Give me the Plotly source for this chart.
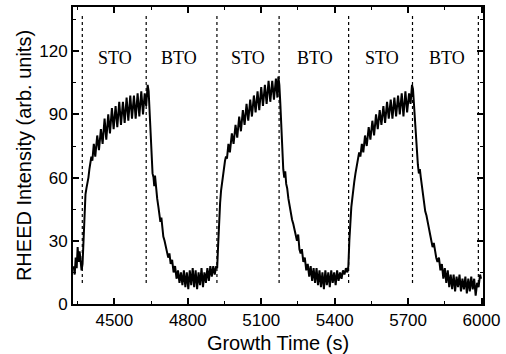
import plotly.graph_objects as go

time_s = [
    4334, 4338, 4342, 4346, 4350, 4354, 4358, 4362, 4366, 4370,
    4374, 4378, 4382, 4386, 4390, 4394, 4398, 4402, 4406, 4410, 4416, 4422, 4430, 4437, 4445, 4452,
    4460, 4467, 4475, 4482, 4490, 4497, 4505, 4512, 4520, 4527, 4535, 4542, 4550, 4557, 4565, 4572,
    4580, 4587, 4595, 4602, 4610, 4617, 4624, 4630, 4636, 4640,
    4644, 4648, 4652, 4656, 4660, 4663, 4666, 4670, 4675, 4680, 4684, 4688, 4692, 4696, 4700, 4705,
    4710, 4715, 4720, 4725, 4730, 4736, 4742, 4748, 4754, 4760, 4766, 4772, 4778, 4784, 4790, 4796,
    4802, 4808, 4814, 4820, 4826, 4832, 4838, 4844, 4850, 4856, 4862, 4868, 4874, 4880, 4886, 4892,
    4898, 4904, 4910, 4916, 4920,
    4924, 4928, 4932, 4936, 4940, 4944, 4948, 4952, 4956, 4960, 4966, 4972, 4980, 4987, 4995, 5002,
    5010, 5017, 5025, 5032, 5040, 5047, 5055, 5062, 5070, 5077, 5085, 5092, 5100, 5107, 5115, 5122,
    5130, 5137, 5145, 5152, 5160, 5166, 5170, 5174,
    5178, 5182, 5186, 5190, 5194, 5198, 5202, 5206, 5211, 5216, 5221, 5226, 5231, 5236, 5241, 5246,
    5251, 5256, 5261, 5266, 5272, 5278, 5284, 5290, 5296, 5302, 5308, 5314, 5320, 5326, 5332, 5338,
    5344, 5350, 5356, 5362, 5368, 5374, 5380, 5386, 5392, 5398, 5404, 5410, 5416, 5422, 5428, 5434,
    5440, 5446, 5452,
    5456, 5460, 5464, 5468, 5472, 5476, 5480, 5485, 5490, 5495, 5500, 5505, 5511, 5517, 5524, 5531,
    5539, 5546, 5554, 5561, 5569, 5576, 5584, 5591, 5599, 5606, 5614, 5621, 5629, 5636, 5644, 5651,
    5659, 5666, 5674, 5681, 5689, 5696, 5704, 5710, 5716, 5720,
    5724, 5728, 5732, 5736, 5740, 5744, 5748, 5752, 5756, 5760, 5765, 5770, 5775, 5780, 5785, 5790,
    5795, 5800, 5805, 5810, 5815, 5820, 5826, 5832, 5838, 5844, 5850, 5856, 5862, 5868, 5874, 5880,
    5886, 5892, 5898, 5904, 5910, 5916, 5922, 5928, 5934, 5940, 5946, 5952, 5958, 5964, 5970, 5976,
    5982, 5988, 5994, 5998,
]

rheed_intensity = [
    18, 14, 22, 17, 27, 20, 25, 21, 16, 19,
    30, 45, 52, 55, 57, 60, 64, 67, 70, 68, 76, 70, 80, 73, 83, 76,
    88, 78, 90, 81, 93, 83, 94, 84, 96, 85, 96, 86, 98, 87, 99, 88,
    99, 88, 100, 89, 101, 90, 100, 94, 104, 101,
    92, 80, 70, 62, 60, 56, 61, 54, 50, 46, 42, 39, 41, 35, 32, 30,
    27, 25, 22, 24, 19, 21, 15, 18, 12, 16, 10, 15, 9, 16, 8, 15,
    7, 16, 9, 17, 8, 16, 7, 15, 9, 17, 8, 15, 10, 17, 11, 18,
    13, 18, 14, 18, 17,
    28, 40, 48, 54, 58, 62, 66, 68, 70, 69, 76, 72, 81, 76, 85, 79,
    89, 82, 92, 85, 95, 87, 97, 89, 99, 91, 101, 92, 103, 94, 104, 95,
    106, 96, 106, 97, 107, 98, 108, 104,
    95, 82, 72, 64, 60, 63, 57, 55, 50, 46, 42, 40, 38, 35, 33, 30,
    33, 26, 24, 26, 20, 22, 16, 19, 13, 18, 11, 17, 10, 17, 9, 16,
    8, 15, 7, 16, 9, 15, 8, 16, 10, 15, 9, 16, 11, 15, 12, 16,
    14, 17, 15,
    18, 30, 40, 46, 50, 55, 58, 62, 66, 69, 72, 70, 76, 72, 80, 75,
    84, 78, 87, 80, 90, 83, 92, 85, 94, 86, 96, 88, 97, 88, 98, 89,
    99, 90, 100, 89, 101, 91, 100, 95, 104, 102,
    95, 86, 78, 70, 66, 62, 64, 60, 56, 52, 48, 44, 42, 38, 36, 33,
    30, 27, 29, 24, 22, 20, 22, 16, 19, 12, 17, 10, 16, 8, 14, 7,
    14, 6, 13, 8, 14, 6, 12, 7, 13, 5, 12, 6, 13, 7, 12, 4,
    10, 8, 14, 12,
]

boundary_times = [4369, 4630, 4919, 5173, 5457, 5718, 5987]
layer_labels = ["STO", "BTO", "STO", "BTO", "STO", "BTO"]
label_times = [4503, 4762, 5047, 5321, 5594, 5860]
label_level = 117

x_ticks = [4500, 4800, 5100, 5400, 5700, 6000]
y_ticks = [0, 30, 60, 90, 120]

fig = go.Figure()
fig.add_trace(go.Scatter(
    x=time_s, y=rheed_intensity, mode="lines",
    line=dict(color="black", width=2), showlegend=False,
))

for bt in boundary_times:
    fig.add_shape(type="line", xref="x", yref="y", x0=bt, x1=bt, y0=10, y1=138,
                  line=dict(color="black", width=1.2, dash="dot"))

for lab, lt in zip(layer_labels, label_times):
    fig.add_annotation(x=lt, y=label_level, text=lab, showarrow=False,
                       font=dict(family="Liberation Serif", size=18, color="black"))

axis_common = dict(
    showgrid=False, zeroline=False, showline=True, linecolor="black", linewidth=2,
    mirror="ticks", ticks="inside", ticklen=6, tickwidth=1.5, tickcolor="black",
    tickfont=dict(family="Liberation Sans", size=17, color="black"),
)

fig.update_xaxes(
    range=[4331, 6006], tickvals=x_ticks,
    title=dict(text="Growth Time (s)", font=dict(family="Liberation Sans", size=20, color="black"), standoff=7),
    minor=dict(dtick=150, tick0=4350, ticks="inside", ticklen=3, tickcolor="black", tickwidth=1.2),
    **axis_common,
)
fig.update_yaxes(
    range=[0, 141], tickvals=y_ticks,
    title=dict(text="RHEED Intensity (arb. units)", font=dict(family="Liberation Sans", size=20, color="black"), standoff=2),
    minor=dict(dtick=15, tick0=0, ticks="inside", ticklen=3, tickcolor="black", tickwidth=1.2),
    **axis_common,
)

fig.update_layout(
    width=506, height=354,
    margin=dict(l=73, r=23, t=7, b=50, autoexpand=False),
    paper_bgcolor="white", plot_bgcolor="white",
)

fig.write_html("out.html", config={"displayModeBar": False},
               post_script="document.body.style.margin='0';document.body.style.overflow='hidden';")
